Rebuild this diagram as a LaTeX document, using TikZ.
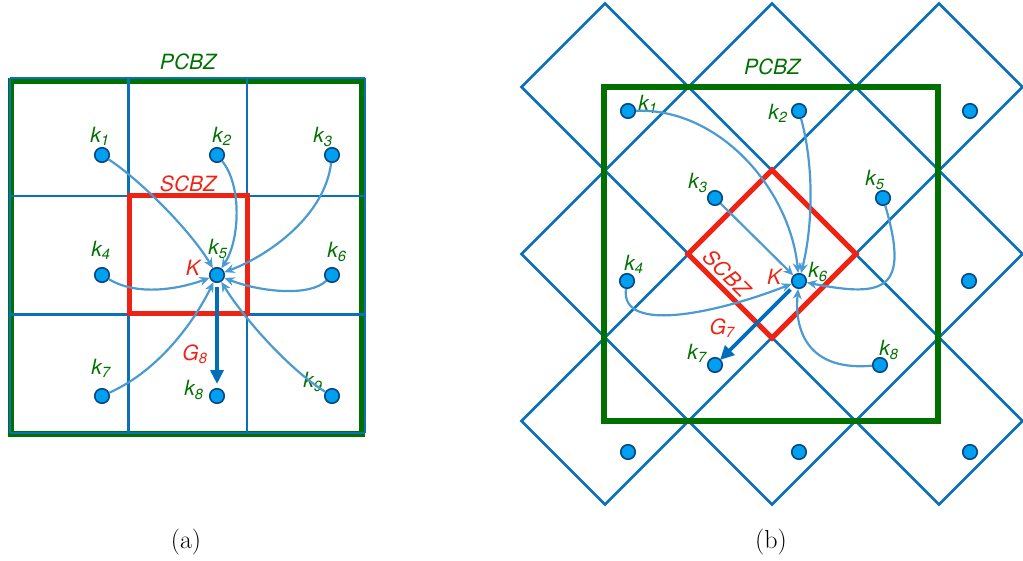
\documentclass[tikz,border=0pt]{standalone}
\usepackage{fontspec}
\newfontfamily\lab{TeX Gyre Heros}
\usetikzlibrary{arrows.meta}
\definecolor{gridblue}{RGB}{10,112,186}
\definecolor{pgreen}{RGB}{0,112,0}
\definecolor{sred}{RGB}{238,35,20}
\definecolor{dotfill}{RGB}{0,160,240}
\definecolor{dotline}{RGB}{10,70,130}
\definecolor{arrblue}{RGB}{75,155,210}
\definecolor{gblue}{RGB}{0,110,185}
\newcommand\kk[1]{k\textsubscript{#1}}
\begin{document}
\begin{tikzpicture}[x=1pt,y=-1pt,
  gridline/.style={draw=gridblue, line width=2.5pt, line join=miter},
  pcbz/.style={draw=pgreen, line width=6pt},
  scbz/.style={draw=sred, line width=5pt},
  kdot/.style={circle, fill=dotfill, draw=dotline, line width=1.6pt, minimum size=14.5pt, inner sep=0pt},
  klab/.style={text=pgreen, font=\lab\itshape\fontsize{21}{25}\selectfont, inner sep=0pt},
  rlab/.style={text=sred, font=\lab\itshape\fontsize{21}{25}\selectfont, inner sep=0pt},
  flow/.style={draw=arrblue, line width=2.2pt, -{Stealth[length=10pt,width=9pt]}},
  gvec/.style={draw=gblue, line width=3.8pt, -{Triangle[length=14pt,width=13pt]}},
  capt/.style={font=\fontsize{26}{30}\selectfont, inner sep=0pt}]
\useasboundingbox (0,0) rectangle (1023,561);

% ---------- panel (a) ----------
\draw[pcbz] (10.5,81) rectangle (362,433.5);
\foreach \x in {10,128.5,247,365} \draw[gridline] (\x,78) -- (\x,433);
\foreach \y in {78,196,314.5,433} \draw[gridline] (10,\y) -- (365,\y);
\draw[scbz] (129,196) rectangle (247,314);
\node[klab] (pa) at (188,62) {PCBZ};
\node[rlab] (sa) at (188,184) {SCBZ};

\node[kdot] (a1) at (102,155) {};
\node[kdot] (a2) at (217,155) {};
\node[kdot] (a3) at (332,155) {};
\node[kdot] (a4) at (102,275) {};
\node[kdot] (a5) at (217,275) {};
\node[kdot] (a6) at (332,275) {};
\node[kdot] (a7) at (102,396) {};
\node[kdot] (a8) at (217,396) {};
\node[kdot] (a9) at (332,396) {};

\node[klab] (la1) at (100,136) {\kk{1}};
\node[klab] (la2) at (222,136) {\kk{2}};
\node[klab] (la3) at (323,137) {\kk{3}};
\node[klab] (la4) at (101,250) {\kk{4}};
\node[klab] (la5) at (218,249) {\kk{5}};
\node[klab] (la6) at (337,252) {\kk{6}};
\node[klab] (la7) at (101,368) {\kk{7}};
\node[klab] (la8) at (194,390) {\kk{8}};
\node[klab] (la9) at (313,382) {\kk{9}};
\node[rlab] (lka) at (193,268) {K};
\node[rlab] (lga) at (195,354) {G\textsubscript{8}};

\draw[flow] (a1) .. controls (140,180) and (190,230) .. (a5);
\draw[flow] (a2) .. controls (242,185) and (240,240) .. (a5);
\draw[flow] (a3) .. controls (325,215) and (270,255) .. (a5);
\draw[flow] (a4) .. controls (140,298) and (185,287) .. (a5);
\draw[flow] (a6) .. controls (310,297) and (260,292) .. (a5);
\draw[flow] (a7) .. controls (160,370) and (195,320) .. (a5);
\draw[flow] (a9) .. controls (290,370) and (245,320) .. (a5);
\coordinate (ga) at (217,384);
\draw[gvec, shorten <=4pt] (a5) -- (ga);

% ---------- panel (b) ----------
\foreach \i in {0,1,2}
  \foreach \j in {0,1,2}
    \draw[gridline] ({605+167*\i},{87+167*\j-83.5}) -- ++(83.5,83.5) -- ++(-83.5,83.5) -- ++(-83.5,-83.5) -- cycle;
\draw[pcbz] (604,87) rectangle (938,421);
\draw[scbz] (772,170) -- (856,254) -- (772,338) -- (688,254) -- cycle;
\node[klab] (pb) at (772,67) {PCBZ};
\node[rlab, rotate=-45] (sb) at (727,273) {SCBZ};

\node[kdot] (b1) at (628,111) {};
\node[kdot] (b2) at (799,111) {};
\node[kdot] (bx1) at (970,111) {};
\node[kdot] (b3) at (715,198) {};
\node[kdot] (b5) at (883,198) {};
\node[kdot] (b4) at (627,281) {};
\node[kdot] (b6) at (799,281) {};
\node[kdot] (bx2) at (969,281) {};
\node[kdot] (b7) at (715,365) {};
\node[kdot] (b8) at (880,365) {};
\node[kdot] (bx3) at (628,452) {};
\node[kdot] (bx4) at (799,452) {};
\node[kdot] (bx5) at (970,452) {};

\node[klab] (lb1) at (648,104) {\kk{1}};
\node[klab] (lb2) at (778,113) {\kk{2}};
\node[klab] (lb3) at (698,183) {\kk{3}};
\node[klab] (lb5) at (875,180) {\kk{5}};
\node[klab] (lb4) at (634,264) {\kk{4}};
\node[klab] (lb6) at (818,272) {\kk{6}};
\node[klab] (lb7) at (697,353) {\kk{7}};
\node[klab] (lb8) at (889,350) {\kk{8}};
\node[rlab] (lkb) at (774,277) {K};
\node[rlab] (lgb) at (722,328) {G\textsubscript{7}};

\draw[flow] (b1) .. controls (720,108) and (790,190) .. (b6);
\draw[flow] (b2) .. controls (815,170) and (812,230) .. (b6);
\draw[flow] (b3) -- (b6);
\draw[flow] (b5) .. controls (910,290) and (885,298) .. (b6);
\draw[flow] (b4) .. controls (620,335) and (720,312) .. (b6);
\draw[flow] (b8) .. controls (800,372) and (795,320) .. (b6);
\coordinate (gb) at (720,360);
\draw[gvec, shorten <=4pt] (b6) -- (gb);

% captions
\node[capt] (ca) at (186,542) {(a)};
\node[capt] (cb) at (771,542) {(b)};
\end{tikzpicture}
\end{document}
